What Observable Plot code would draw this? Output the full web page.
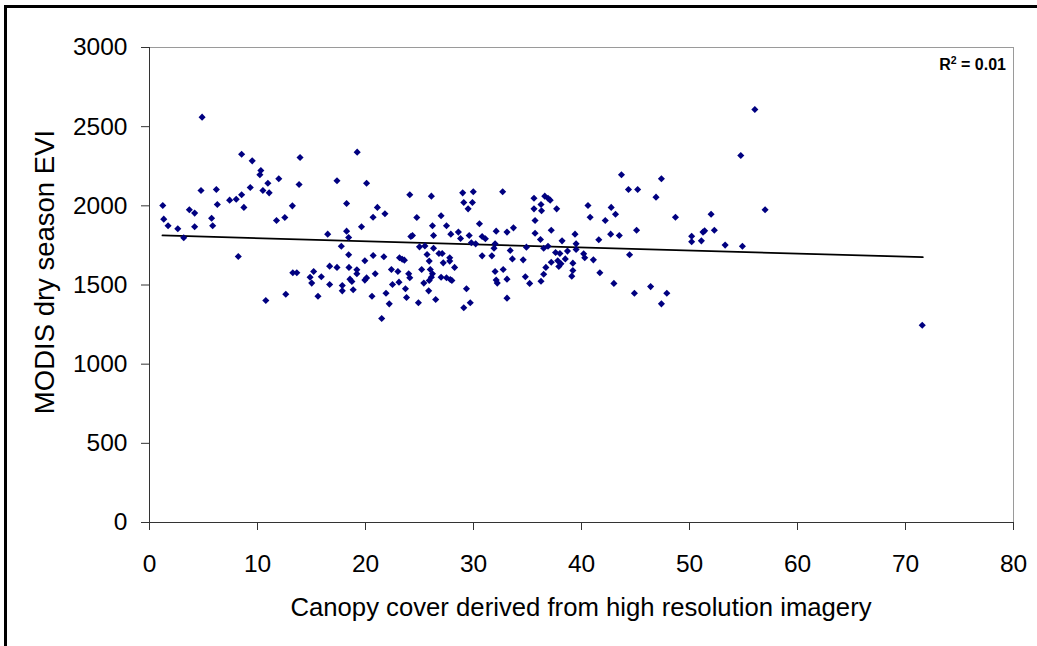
<!DOCTYPE html>
<html>
<head>
<meta charset="utf-8">
<script src="https://cdn.jsdelivr.net/npm/d3@7"></script>
<script src="https://cdn.jsdelivr.net/npm/@observablehq/plot@0.6"></script>
<style>
  body { margin: 0; background: #fff; }
  #wrap { position: relative; width: 1037px; height: 646px; overflow: hidden; background: #fff;
          font-family: "Liberation Sans", Arial, sans-serif; color: #000; }
  #border { position: absolute; left: 4px; top: 5px; width: 1200px; height: 800px;
            border-left: 3px solid #000; border-top: 3px solid #000; pointer-events: none; }
  #chart { position: absolute; left: 0; top: 0; }
  .xtitle { position: absolute; left: 149px; width: 864px; top: 595px; text-align: center;
            font-size: 25.7px; line-height: 1; white-space: nowrap; }
  .ytitle { position: absolute; left: 45px; top: 272px; font-size: 27.5px; line-height: 1;
            white-space: nowrap; transform: translate(-50%, -50%) rotate(-90deg); }
  .r2 { position: absolute; right: 31px; top: 57px; font-size: 16px; font-weight: bold;
        line-height: 1; white-space: nowrap; }
  .r2 sup { font-size: 10.5px; vertical-align: 6px; line-height: 0; }
</style>
</head>
<body>
<div id="wrap">
  <div id="chart"></div>
  <div id="border"></div>
  <div class="ytitle" id="ytitle"></div>
  <div class="xtitle" id="xtitle"></div>
  <div class="r2" id="r2"></div>
</div>
<script>
// ---- data ----
const canopyCover = [
  4.87, 1.23, 1.32, 1.72, 2.62, 3.17, 3.69, 4.18, 4.18, 4.77,
  5.75, 5.85, 6.19, 6.28, 7.42, 8.03, 8.22, 8.53, 8.53, 8.74,
  9.33, 9.51, 10.22, 10.31, 10.5, 10.96, 11.08, 10.77, 11.97, 11.76,
  12.53, 12.62, 13.23, 13.27, 13.64, 13.85, 13.94, 15.6, 14.87, 15.02,
  15.2, 15.91, 16.68, 16.68, 16.5, 17.36, 17.36, 17.76, 17.85, 17.85,
  18.25, 18.25, 18.44, 18.44, 18.47, 18.56, 18.74, 18.86, 19.23, 19.2,
  19.2, 20.1, 24.1, 21.1, 20.7, 21.8, 19.63, 19.94, 20.71, 21.7,
  23.15, 23.4, 23.6, 19.94, 20.1, 20.9, 20.6, 21.5, 22.4, 23.0,
  22.5, 23.1, 21.9, 22.2, 23.7, 23.8, 24.0, 24.2, 24.35, 26.1,
  29.0, 29.98, 29.1, 29.9, 29.5, 32.7, 35.6, 36.6, 36.9, 37.1,
  35.6, 36.25, 36.3, 37.7, 24.75, 27.0, 26.2, 27.5, 26.3, 27.9,
  28.6, 28.8, 29.6, 30.55, 30.8, 31.1, 29.8, 30.2, 32.1, 33.1,
  33.7, 35.7, 35.7, 37.2, 36.2, 38.2, 32.0, 31.9, 33.4, 34.9,
  36.5, 36.9, 37.6, 38.0, 37.2, 37.8, 38.1, 37.9, 36.7, 36.5,
  36.25, 35.2, 34.8, 34.6, 33.6, 32.75, 32.0, 32.1, 32.2, 33.1,
  33.1, 30.8, 31.7, 28.25, 27.8, 27.8, 27.2, 26.8, 27.1, 26.3,
  25.7, 25.9, 25.0, 25.5, 25.2, 26.0, 26.2, 26.1, 25.9, 24.1,
  25.4, 25.85, 24.9, 26.5, 27.0, 27.5, 27.85, 28.0, 29.35, 29.1,
  29.7, 43.7, 47.4, 44.35, 45.2, 46.9, 40.6, 42.75, 43.15, 40.8,
  42.2, 48.7, 39.4, 39.5, 39.5, 38.7, 38.5, 40.2, 40.3, 41.1,
  39.2, 39.2, 39.1, 41.6, 42.7, 43.5, 45.1, 44.45, 41.7, 43.0,
  44.9, 46.4, 47.9, 47.4, 50.2, 50.2, 51.1, 51.25, 51.4, 56.05,
  54.75, 57.0, 52.0, 52.3, 53.3, 54.9, 71.55
];
const dryEVI = [
  2560, 2002, 1916, 1874, 1855, 1798, 1975, 1954, 1868, 2097,
  1922, 1874, 2103, 2008, 2036, 2042, 1680, 2326, 2070, 1990,
  2116, 2284, 2196, 2223, 2097, 2143, 2082, 1402, 2171, 1907,
  1926, 1442, 2000, 1577, 1577, 2135, 2305, 1429, 1549, 1512,
  1585, 1552, 1619, 1503, 1821, 1611, 2158, 1745, 1497, 1463,
  2015, 1840, 1800, 1691, 1611, 1537, 1522, 1470, 2339, 1596,
  1571, 2143, 2070, 1990, 1928, 1950, 1868, 1653, 1686, 1678,
  1672, 1663, 1657, 1531, 1545, 1571, 1429, 1288, 1598, 1585,
  1503, 1518, 1448, 1381, 1476, 1421, 1571, 1806, 1813, 2061,
  2082, 2089, 2021, 2021, 1981, 2089, 2048, 2061, 2048, 2036,
  1981, 2008, 1969, 1981, 1926, 1937, 1874, 1874, 1813, 1821,
  1834, 1794, 1813, 1887, 1806, 1792, 1767, 1760, 1840, 1834,
  1861, 1907, 1827, 1846, 1787, 1779, 1760, 1732, 1718, 1739,
  1732, 1745, 1705, 1699, 1644, 1653, 1634, 1617, 1611, 1568,
  1524, 1510, 1552, 1659, 1665, 1598, 1585, 1531, 1512, 1537,
  1417, 1684, 1684, 1611, 1672, 1651, 1640, 1699, 1699, 1732,
  1693, 1651, 1741, 1747, 1598, 1598, 1571, 1549, 1528, 1546,
  1512, 1463, 1388, 1408, 1549, 1546, 1535, 1528, 1476, 1356,
  1388, 2196, 2171, 2103, 2103, 2055, 2002, 1990, 1947, 1928,
  1907, 1928, 1821, 1760, 1724, 1714, 1665, 1697, 1672, 1659,
  1638, 1592, 1556, 1786, 1821, 1813, 1846, 1691, 1577, 1510,
  1448, 1490, 1448, 1381, 1808, 1773, 1779, 1834, 1842, 2608,
  2318, 1975, 1947, 1846, 1752, 1745, 1246
];
// linear trendline end points (as drawn in the reference)
const trendX = [1.2, 71.6];
const trendY = [1813, 1676];
const xTicks = [0, 10, 20, 30, 40, 50, 60, 70, 80];
const yTicks = [0, 500, 1000, 1500, 2000, 2500, 3000];
const xTitle = "Canopy cover derived from high resolution imagery";
const yTitle = "MODIS dry season EVI";
const r2Value = "0.01";

// ---- build ----
const points = canopyCover.map((x, i) => ({x, y: dryEVI[i]}));
const trend = trendX.map((x, i) => ({x, y: trendY[i]}));

const chart = Plot.plot({
  width: 1037,
  height: 646,
  marginLeft: 149,
  marginRight: 24,
  marginTop: 47,
  marginBottom: 124,
  style: {fontFamily: "'Liberation Sans', Arial, sans-serif", fontSize: "24.5px", color: "#000", background: "transparent"},
  x: {domain: [0, 80], label: null},
  y: {domain: [0, 3000], label: null},
  marks: [
    Plot.frame({stroke: "#9a9a9a", strokeWidth: 1}),
    Plot.axisX({ticks: xTicks, tickSize: 8, tickPadding: 24, label: null, stroke: "#333", tickFormat: d => String(d)}),
    Plot.axisY({ticks: yTicks, tickSize: 8, tickPadding: 14, label: null, stroke: "#333", tickFormat: d => String(d)}),
    Plot.ruleX([0], {stroke: "#333", strokeWidth: 1}),
    Plot.ruleY([0], {stroke: "#333", strokeWidth: 1}),
    Plot.line(trend, {x: "x", y: "y", stroke: "#000", strokeWidth: 1.8}),
    Plot.dot(points, {x: "x", y: "y", symbol: "diamond2", r: 3.2, fill: "#000080", stroke: null})
  ]
});
document.getElementById("chart").appendChild(chart);
document.getElementById("xtitle").textContent = xTitle;
document.getElementById("ytitle").textContent = yTitle;
document.getElementById("r2").innerHTML = "R<sup>2</sup> = " + r2Value;
</script>
</body>
</html>
